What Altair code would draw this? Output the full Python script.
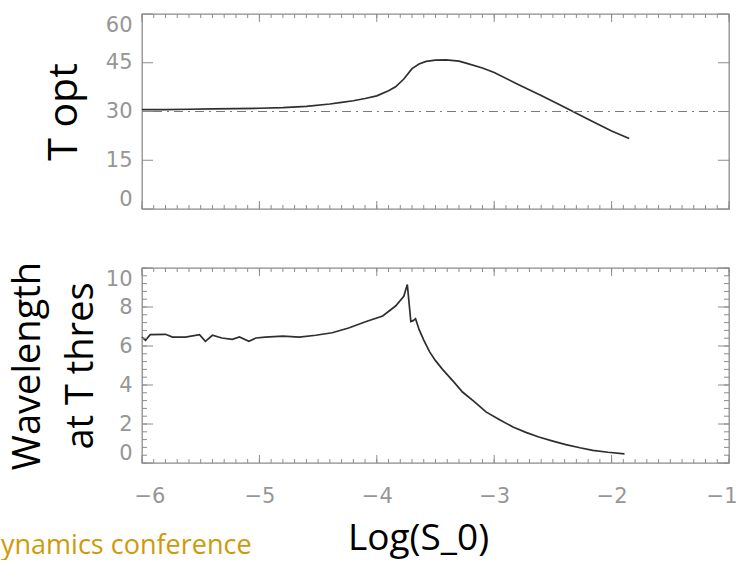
import altair as alt
import pandas as pd
import numpy as np

# ---------------- data ----------------
top_x = [-6.0, -5.8, -5.6, -5.4, -5.2, -5.0, -4.8, -4.6, -4.4, -4.3, -4.2, -4.1,
         -4.0, -3.9, -3.84, -3.77, -3.7, -3.64, -3.58, -3.5, -3.41, -3.3, -3.24,
         -3.1, -3.0, -2.8, -2.6, -2.4, -2.2, -2.0, -1.85]
top_y = [30.6, 30.6, 30.7, 30.8, 30.9, 31.0, 31.2, 31.6, 32.3, 32.8, 33.3, 34.0,
         34.8, 36.4, 37.6, 40.0, 43.2, 44.6, 45.4, 45.8, 45.9, 45.5, 44.9,
         43.4, 42.0, 38.4, 34.9, 31.3, 27.6, 24.0, 21.7]
ref_level = [30]

bot_x = [-6.00, -5.97, -5.93, -5.80, -5.74, -5.63, -5.51, -5.46, -5.40, -5.32,
         -5.23, -5.17, -5.09, -5.03, -4.95, -4.80, -4.66, -4.52, -4.38, -4.24,
         -4.09, -3.95, -3.84, -3.77, -3.74, -3.71, -3.69, -3.67, -3.64, -3.60,
         -3.55, -3.50, -3.44, -3.35, -3.27, -3.17, -3.07, -2.95, -2.84, -2.73,
         -2.62, -2.50, -2.39, -2.27, -2.16, -2.03, -1.89]
bot_y = [6.46, 6.29, 6.58, 6.60, 6.46, 6.46, 6.58, 6.24, 6.55, 6.41,
         6.34, 6.46, 6.24, 6.41, 6.46, 6.51, 6.46, 6.55, 6.68, 6.92,
         7.26, 7.54, 8.05, 8.55, 9.15, 7.25, 7.30, 7.40, 6.85, 6.30,
         5.70, 5.25, 4.80, 4.20, 3.64, 3.15, 2.62, 2.20, 1.85, 1.57,
         1.33, 1.12, 0.94, 0.78, 0.65, 0.55, 0.47]

x_major = [-6, -5, -4, -3, -2, -1]
x_minor = [round(v, 1) for v in np.arange(-6.0, -0.95, 0.1)]
top_y_major = [0, 15, 30, 45, 60]
bot_y_major = [0, 2, 4, 6, 8, 10]
bot_y_minor = [round(v, 1) for v in np.arange(0.0, 10.01, 0.4)]

footer_text = ["ynamics conference"]

# ---------------- styling ----------------
W, H1, H2 = 587, 195, 195
LINE = "#2e2e2e"
AX = "#8c8c8c"
LAB = "#969696"
TICKFONT = "DejaVu Sans"
TITLEFONT = "Open Sans"

xscale = alt.Scale(domain=[-6, -1], nice=False, zero=False)
yscale_top = alt.Scale(domain=[0, 60], nice=False)
yscale_bot = alt.Scale(domain=[0, 10], nice=False)

common = dict(ticks=False, domain=False, grid=False, labelColor=LAB,
              labelFont=TICKFONT, labelFontSize=21, titleFont=TITLEFONT,
              titleFontWeight="normal", titleColor="black")

x_axis_top = alt.Axis(values=x_major, labels=False, title=None, **common)
x_axis_bot = alt.Axis(values=x_major, title="Log(S_0)", labelPadding=22,
                      labelFlush=True, labelFlushOffset=8, titlePadding=14,
                      titleX=276, titleFontSize=37, **common)
y_axis_top = alt.Axis(values=top_y_major, title="T opt", labelFlush=True,
                      labelPadding=10, titlePadding=20, titleFontSize=41,
                      **common)
y_axis_bot = alt.Axis(values=bot_y_major, title=["Wavelength", "at T thres"],
                      labelFlush=True, labelPadding=10, titlePadding=5,
                      titleLineHeight=53, titleFontSize=38, **common)


def xticks(vals, length, H, xaxis):
    df = pd.DataFrame({"x": vals})
    base = alt.Chart(df).mark_rule(color=AX, strokeWidth=1)
    xe = alt.X("x:Q", scale=xscale, axis=xaxis)
    return [
        base.encode(x=xe, y=alt.value(H), y2=alt.value(H - length)),
        base.encode(x=xe, y=alt.value(0), y2=alt.value(length)),
    ]


def yticks(vals, length, yscale, yaxis):
    df = pd.DataFrame({"y": vals})
    base = alt.Chart(df).mark_rule(color=AX, strokeWidth=1)
    ye = alt.Y("y:Q", scale=yscale, axis=yaxis)
    return [
        base.encode(y=ye, x=alt.value(0), x2=alt.value(length)),
        base.encode(y=ye, x=alt.value(W), x2=alt.value(W - length)),
    ]


# ---------------- top panel ----------------
df_top = pd.DataFrame({"x": top_x, "y": top_y})
line_top = alt.Chart(df_top).mark_line(color=LINE, strokeWidth=1.7).encode(
    x=alt.X("x:Q", scale=xscale, axis=x_axis_top),
    y=alt.Y("y:Q", scale=yscale_top, axis=y_axis_top),
)
ref_rule = alt.Chart(pd.DataFrame({"y": ref_level})).mark_rule(
    color="#7a7a7a", strokeWidth=1.1, strokeDash=[9, 5, 2, 5]
).encode(y=alt.Y("y:Q", scale=yscale_top, axis=y_axis_top))

top = alt.layer(
    line_top, ref_rule,
    *xticks(x_major, 8, H1, x_axis_top), *xticks(x_minor, 4, H1, x_axis_top),
    *yticks(top_y_major, 11, yscale_top, y_axis_top),
).properties(width=W, height=H1)

# ---------------- bottom panel ----------------
df_bot = pd.DataFrame({"x": bot_x, "y": bot_y})
line_bot = alt.Chart(df_bot).mark_line(color=LINE, strokeWidth=1.7).encode(
    x=alt.X("x:Q", scale=xscale, axis=x_axis_bot),
    y=alt.Y("y:Q", scale=yscale_bot, axis=y_axis_bot),
)
footer = alt.Chart(pd.DataFrame({"t": footer_text})).mark_text(
    align="left", baseline="alphabetic", font=TITLEFONT, fontSize=27,
    color="#cf9a0a"
).encode(text="t:N", x=alt.value(-141), y=alt.value(286))

bot = alt.layer(
    line_bot,
    *xticks(x_major, 8, H2, x_axis_bot), *xticks(x_minor, 4, H2, x_axis_bot),
    *yticks(bot_y_major, 11, yscale_bot, y_axis_bot),
    *yticks(bot_y_minor, 5, yscale_bot, y_axis_bot),
    footer,
).properties(width=W, height=H2)

chart = alt.vconcat(top, bot, spacing=59, bounds="flush").properties(
    padding={"left": 0, "top": 12, "right": 0, "bottom": 0}
).configure(background="white").configure_view(stroke=AX, strokeWidth=1.3)

chart.save("out.html", embed_options={"renderer": "svg", "actions": False})
